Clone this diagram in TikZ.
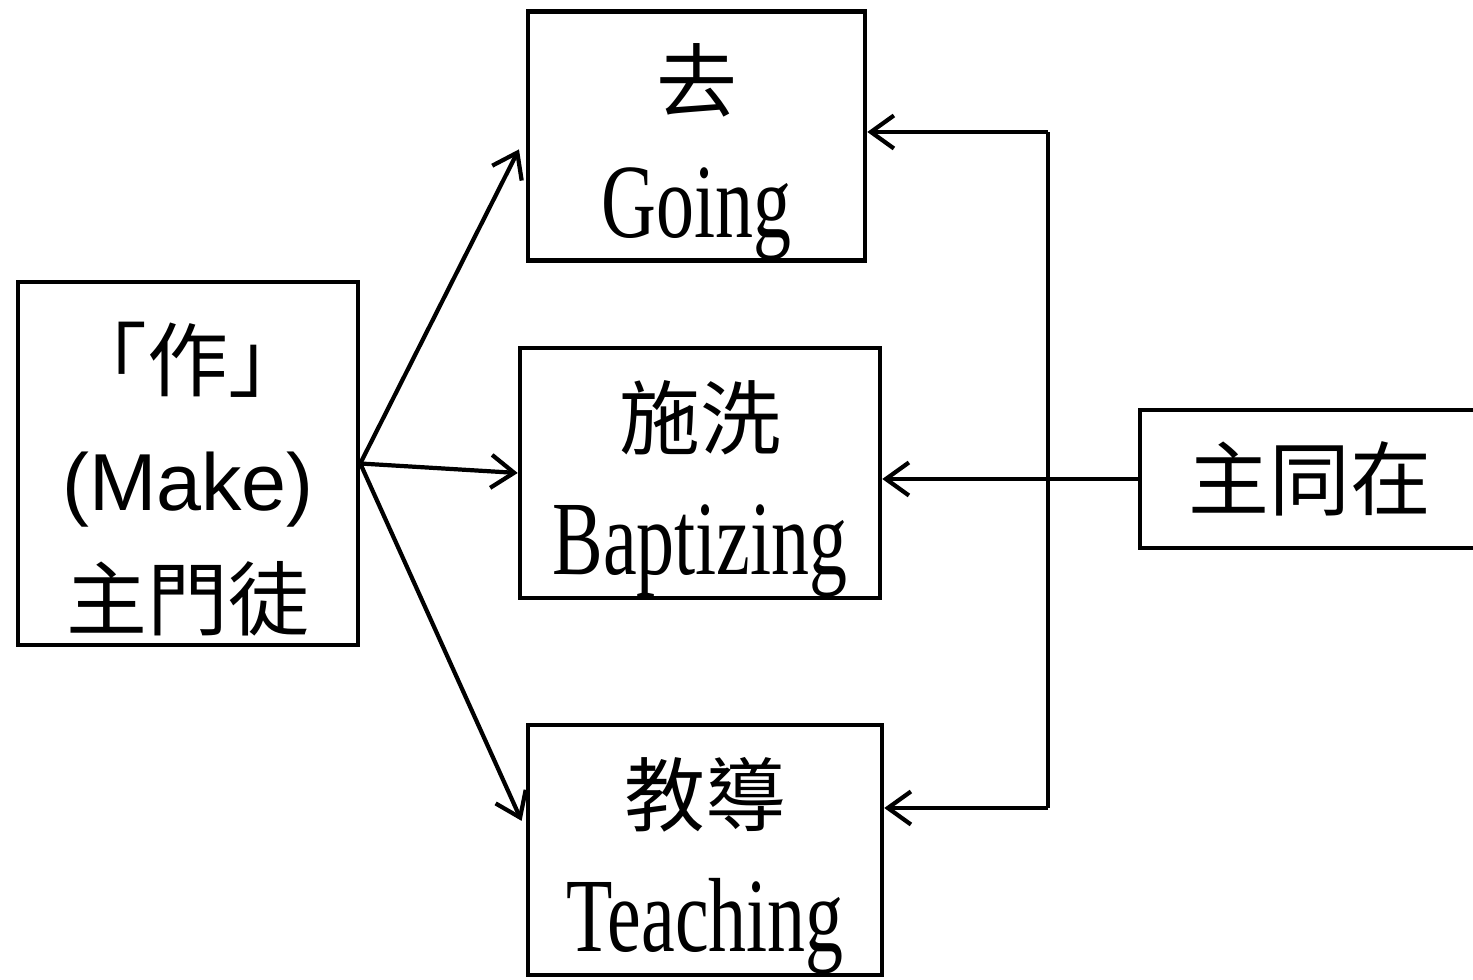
\documentclass[tikz,border=0pt]{standalone}
\usepackage{fontspec}
\usetikzlibrary{arrows.meta}
\newfontfamily\cjk{Noto Sans CJK TC}
\newfontfamily\narrowserif{Liberation Serif}[FakeStretch=0.72]
\newfontfamily\makefont{Liberation Sans}
\newcommand{\topstrut}{\rule{0pt}{1.0cm}}

\begin{document}
\begin{tikzpicture}[box/.style={draw, line width=1.3pt, minimum width=3.4cm, minimum height=2.5cm, align=center, inner sep=0pt},
	tip/.style={line width=1.2pt, -{Straight Barb[length=2.3mm,width=3.3mm]}}]
	\useasboundingbox (0,0) rectangle (14.73,9.79);
	\draw (1.88,5.155) node[box, minimum height=3.63cm, font=\fontsize{23}{34}\selectfont](make) {{\cjk \topstrut「作」}\\{\makefont (Make)}\\{\cjk 主門徒}};
	\draw (6.965,8.43) node[box, minimum width=3.37cm, minimum height=2.48cm, font=\fontsize{23}{36}\selectfont](going) {{\cjk \topstrut 去}\\{\narrowserif\fontsize{30}{36}\selectfont Going}};
	\draw (7.00,5.06) node[box, minimum width=3.6cm, font=\fontsize{23}{36}\selectfont](bapt) {{\cjk \topstrut 施洗}\\{\narrowserif\fontsize{30}{36}\selectfont Baptizing}};
	\draw (7.05,1.29) node[box, minimum width=3.54cm, font=\fontsize{23}{36}\selectfont](teach) {{\cjk \topstrut 教導}\\{\narrowserif\fontsize{30}{36}\selectfont Teaching}};
	\draw (13.10,5.00) node[box, minimum height=1.38cm, font=\fontsize{23}{30}\selectfont\cjk](lord) {主同在};
	\coordinate (jtop) at (10.48,8.47);
	\coordinate (jbot) at (10.48,1.71);
	\draw[tip, shorten >=1.5mm] (make.east) -- (going.west);
	\draw[tip] (make.east) -- (bapt.west);
	\draw[tip, shorten >=1mm] (make.east) -- ([yshift=2mm]teach.west);
	\draw[line width=1.2pt] (jtop) -- (jbot);
	\draw[tip] (jtop) -- (jtop -| going.east);
	\draw[tip] (lord.west) -- (lord.west -| bapt.east);
	\draw[tip] (jbot) -- (jbot -| teach.east);
\end{tikzpicture}
\end{document}
